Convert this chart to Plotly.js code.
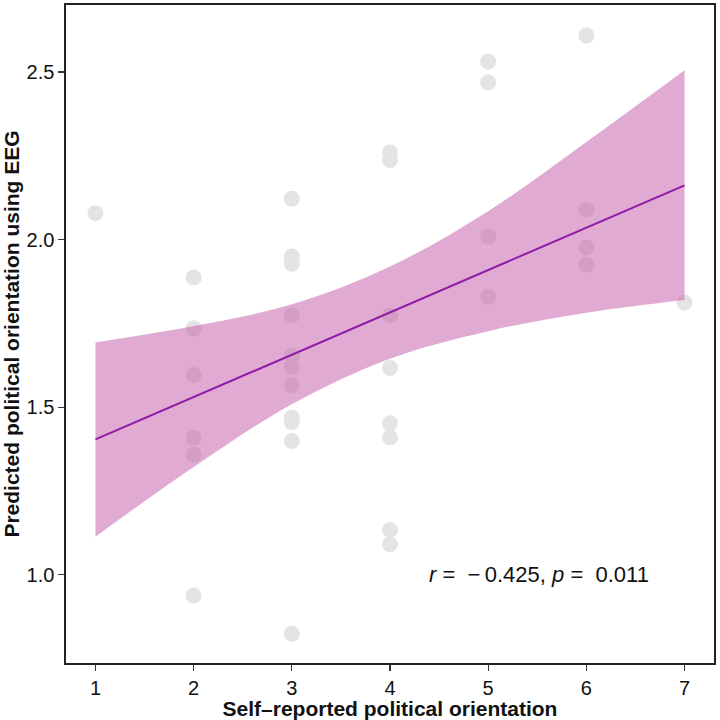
<!DOCTYPE html>
<html>
<head>
<meta charset="utf-8">
<script src="https://cdn.plot.ly/plotly-3.0.1.min.js"></script>
<style>
  html, body { margin: 0; padding: 0; background: #fff; }
  #chart { width: 720px; height: 720px; }
</style>
</head>
<body>
<div id="chart"></div>
<script>
// participants: self-reported score vs EEG prediction
const selfReported = [
  1,
  2, 2, 2, 2, 2, 2, 2,
  3, 3, 3, 3, 3, 3, 3, 3, 3, 3, 3,
  4, 4, 4, 4, 4, 4, 4, 4,
  5, 5, 5, 5,
  6, 6, 6, 6,
  7,
];
const predicted = [
  2.079,
  1.887, 1.735, 1.596, 1.409, 1.359, 0.938, 1.735,
  2.122, 1.950, 1.928, 1.774, 1.653, 1.620, 1.565, 1.469, 1.456, 1.399, 0.824,
  2.260, 2.237, 1.774, 1.617, 1.452, 1.410, 1.134, 1.091,
  2.531, 2.469, 2.009, 1.830,
  2.609, 2.089, 1.976, 1.925,
  1.812,
];

// fitted line and 95% band
const fitX = [1, 7];
const fitY = [1.404, 2.162];
const bandX = [1, 2, 3, 4, 5, 6, 7];
const bandUpper = [1.693, 1.742, 1.807, 1.920, 2.085, 2.291, 2.505];
const bandLower = [1.114, 1.322, 1.509, 1.645, 1.727, 1.782, 1.820];

const statText = '<i>r</i> =\u00a0\u00a0\u2212\u20090.425, <i>p</i> =\u00a0\u00a00.011';

const font = 'Liberation Sans, Arial, Helvetica, sans-serif';

const traces = [
  {
    x: selfReported,
    y: predicted,
    mode: 'markers',
    type: 'scatter',
    marker: { size: 16, color: '#e4e4e4' },
    hoverinfo: 'none',
    showlegend: false,
  },
  {
    x: bandX,
    y: bandLower,
    mode: 'lines',
    line: { width: 0, shape: 'spline' },
    hoverinfo: 'none',
    showlegend: false,
  },
  {
    x: bandX,
    y: bandUpper,
    mode: 'lines',
    line: { width: 0, shape: 'spline' },
    fill: 'tonexty',
    fillcolor: 'rgba(195,92,168,0.52)',
    hoverinfo: 'none',
    showlegend: false,
  },
  {
    x: fitX,
    y: fitY,
    mode: 'lines',
    line: { width: 2, color: '#8E1BA6' },
    hoverinfo: 'none',
    showlegend: false,
  },
];

const axisCommon = {
  showgrid: false,
  zeroline: false,
  showline: true,
  mirror: true,
  linecolor: '#222',
  linewidth: 1.6,
  ticks: 'outside',
  ticklen: 6,
  tickwidth: 1.2,
  tickcolor: '#333',
  tickfont: { family: font, size: 20, color: '#111' },
};

const layout = {
  width: 720,
  height: 720,
  margin: { l: 66, r: 6, t: 5, b: 57 },
  paper_bgcolor: '#fff',
  plot_bgcolor: '#fff',
  xaxis: {
    ...axisCommon,
    range: [0.7, 7.3],
    tickvals: [1, 2, 3, 4, 5, 6, 7],
    title: {
      text: 'Self\u2013reported political orientation',
      font: { family: font, size: 21, color: '#111', weight: 'bold' },
      standoff: 0,
    },
  },
  yaxis: {
    ...axisCommon,
    range: [0.737, 2.70],
    tickvals: [1.0, 1.5, 2.0, 2.5],
    ticktext: ['1.0', '1.5', '2.0', '2.5'],
    title: {
      text: 'Predicted political orientation using EEG',
      font: { family: font, size: 21, color: '#111', weight: 'bold' },
      standoff: 2,
    },
  },
  annotations: [
    {
      x: 5.52,
      y: 1.0,
      xref: 'x',
      yref: 'y',
      text: statText,
      showarrow: false,
      font: { family: font, size: 22, color: '#111' },
    },
  ],
};

Plotly.newPlot('chart', traces, layout, { displayModeBar: false, staticPlot: true });
</script>
</body>
</html>
